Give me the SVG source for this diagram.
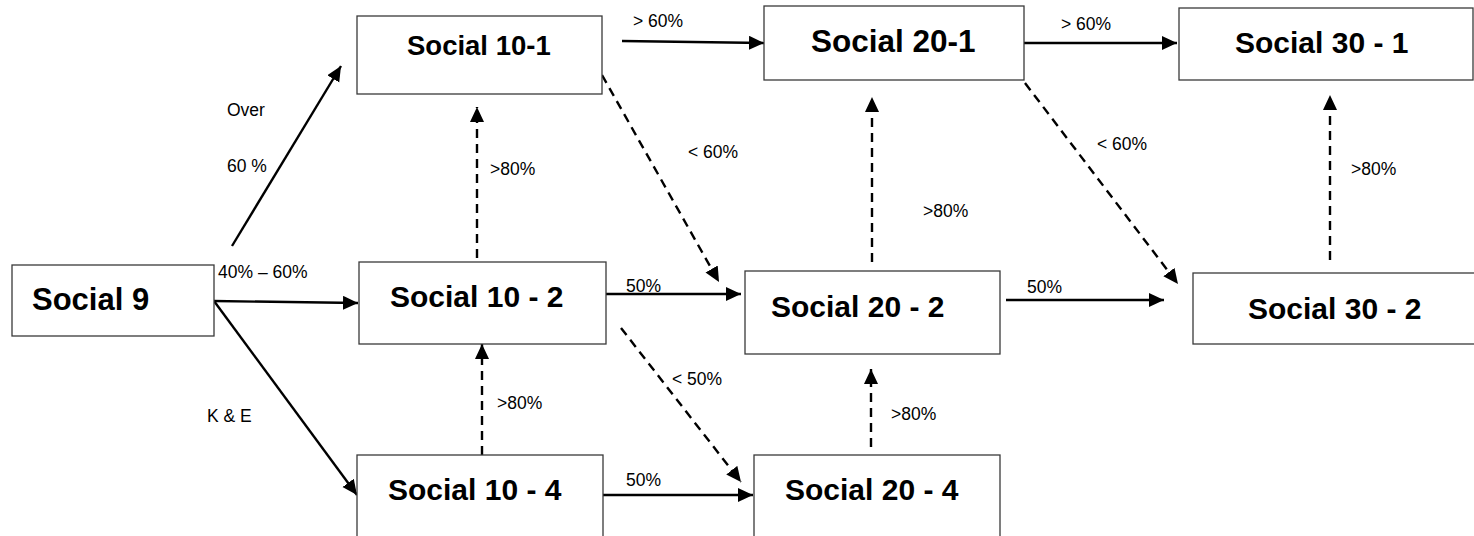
<svg xmlns="http://www.w3.org/2000/svg" width="1474" height="536" viewBox="0 0 1474 536">
<style>
.box{fill:#fff;stroke:#3a3a3a;stroke-width:1.3}
.nt{font-family:"Liberation Sans",Arial,sans-serif;font-weight:bold;fill:#000}
.lb{font-family:"Liberation Sans",Arial,sans-serif;font-size:17.5px;fill:#000}
.c{stroke:#000;stroke-width:2.4;fill:none;marker-end:url(#ah)}
.d{stroke-dasharray:9 6}
</style>
<defs>
<marker id="ah" markerUnits="userSpaceOnUse" markerWidth="16" markerHeight="15" refX="15" refY="7" orient="auto">
<path d="M0,0 L15,7 L0,14 z" fill="#000"/>
</marker>
</defs>
<rect width="1474" height="536" fill="#fff"/>
<g id="connectors">
<line class="c" x1="232" y1="246" x2="341" y2="66"/>
<line class="c" x1="214" y1="301" x2="358" y2="303"/>
<line class="c" x1="214" y1="301" x2="357" y2="495"/>
<line class="c d" x1="477" y1="258" x2="477" y2="107"/>
<line class="c d" x1="482" y1="455" x2="482" y2="344"/>
<line class="c" x1="622" y1="41" x2="764" y2="43"/>
<line class="c d" x1="602" y1="75" x2="719" y2="282"/>
<line class="c d" x1="872" y1="262" x2="872" y2="97"/>
<line class="c" x1="1023" y1="43" x2="1177" y2="43"/>
<line class="c d" x1="1025" y1="83" x2="1178" y2="284"/>
<line class="c d" x1="1330" y1="260" x2="1330" y2="95"/>
<line class="c" x1="606" y1="294" x2="741" y2="294"/>
<line class="c d" x1="621" y1="328" x2="741" y2="482"/>
<line class="c" x1="603" y1="495" x2="753" y2="495"/>
<line class="c d" x1="871" y1="447" x2="871" y2="369"/>
<line class="c" x1="1006" y1="300" x2="1164" y2="300"/>
</g>
<g id="edge-labels">
<text class="lb" x="227" y="116">Over</text>
<text class="lb" x="227" y="172">60 %</text>
<text class="lb" x="218" y="278">40% – 60%</text>
<text class="lb" x="207" y="422">K &amp; E</text>
<text class="lb" x="490" y="175">&gt;80%</text>
<text class="lb" x="633" y="27">&gt; 60%</text>
<text class="lb" x="688" y="158">&lt; 60%</text>
<text class="lb" x="923" y="217">&gt;80%</text>
<text class="lb" x="1061" y="30">&gt; 60%</text>
<text class="lb" x="1097" y="150">&lt; 60%</text>
<text class="lb" x="1351" y="175">&gt;80%</text>
<text class="lb" x="626" y="292">50%</text>
<text class="lb" x="1027" y="293">50%</text>
<text class="lb" x="497" y="409">&gt;80%</text>
<text class="lb" x="672" y="385">&lt; 50%</text>
<text class="lb" x="891" y="420">&gt;80%</text>
<text class="lb" x="626" y="486">50%</text>
</g>
<g id="social9">
<rect class="box" x="12" y="265" width="202" height="71"/>
<text class="nt" x="32" y="310" font-size="31">Social 9</text>
</g>
<g id="social10-1">
<rect class="box" x="357" y="16" width="245" height="78"/>
<text class="nt" x="407" y="55" font-size="27.5">Social 10-1</text>
</g>
<g id="social10-2">
<rect class="box" x="359" y="262" width="247" height="82"/>
<text class="nt" x="390" y="307" font-size="30">Social 10 - 2</text>
</g>
<g id="social10-4">
<rect class="box" x="357" y="455" width="246" height="100"/>
<text class="nt" x="388" y="500" font-size="30">Social 10 - 4</text>
</g>
<g id="social20-1">
<rect class="box" x="764" y="6" width="260" height="74"/>
<text class="nt" x="811" y="52" font-size="31.5">Social 20-1</text>
</g>
<g id="social20-2">
<rect class="box" x="745" y="271" width="255" height="83"/>
<text class="nt" x="771" y="317" font-size="30">Social 20 - 2</text>
</g>
<g id="social20-4">
<rect class="box" x="754" y="455" width="246" height="100"/>
<text class="nt" x="785" y="500" font-size="30">Social 20 - 4</text>
</g>
<g id="social30-1">
<rect class="box" x="1179" y="8" width="294" height="72"/>
<text class="nt" x="1235" y="53" font-size="30">Social 30 - 1</text>
</g>
<g id="social30-2">
<rect class="box" x="1193" y="273" width="290" height="71"/>
<text class="nt" x="1248" y="319" font-size="30">Social 30 - 2</text>
</g>
</svg>
